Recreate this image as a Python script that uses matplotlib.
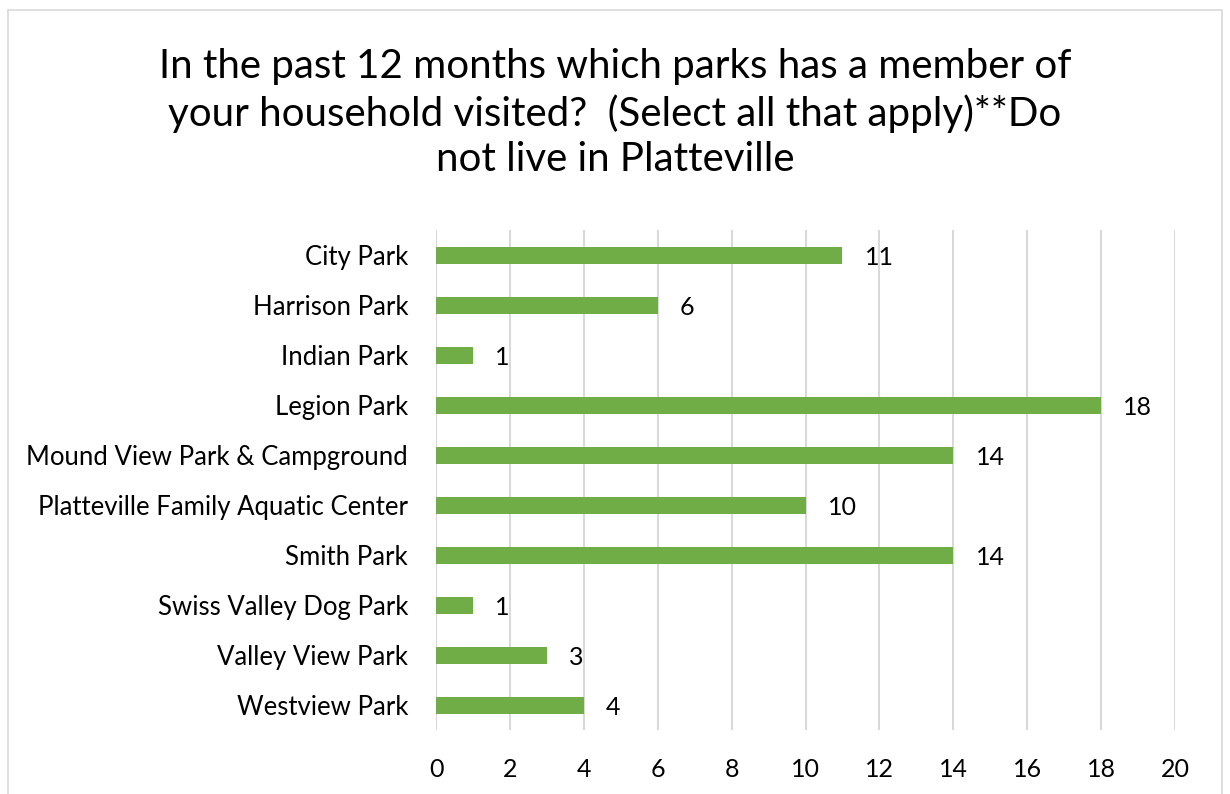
import matplotlib.pyplot as plt
from matplotlib.patches import Rectangle

parks = ["City Park", "Harrison Park", "Indian Park", "Legion Park",
         "Mound View Park & Campground", "Platteville Family Aquatic Center",
         "Smith Park", "Swiss Valley Dog Park", "Valley View Park", "Westview Park"]
visits = [11, 6, 1, 18, 14, 10, 14, 1, 3, 4]
xticks = [0, 2, 4, 6, 8, 10, 12, 14, 16, 18, 20]

title = ("In the past 12 months which parks has a member of\n"
         "your household visited?  (Select all that apply)**Do\n"
         "not live in Platteville")

plt.rcParams['font.family'] = ['Lato', 'DejaVu Sans']

fig = plt.figure(figsize=(12.3, 7.94), dpi=100)
# chart frame
fig.patches.append(Rectangle((8 / 1230, -0.05), 1214 / 1230, 1.05 - 10 / 794,
                             transform=fig.transFigure, fill=False,
                             edgecolor='#d9d9d9', linewidth=1.2))

ax = fig.add_axes([436 / 1230, 1 - 730 / 794, (1175 - 436) / 1230, 500 / 794])
y = list(range(len(parks)))
ax.barh(y, visits, height=0.34, color='#70ad47', zorder=3)
for yi, v in zip(y, visits):
    ax.text(v + 0.6, yi + 0.05, str(v), va='center', ha='left', fontsize=18, color='#000000')

ax.set_ylim(len(parks) - 0.5, -0.5)
ax.set_xlim(0, 20)
ax.set_xticks(xticks)
ax.set_yticks(y)
ax.set_yticklabels(parks)
ax.tick_params(axis='both', length=0, labelsize=18, colors='#000000')
ax.tick_params(axis='y', pad=20, labelsize=18.5)
ax.tick_params(axis='x', pad=20)
ax.grid(axis='x', color='#d9d9d9', linewidth=1.5, zorder=0)
for s in ax.spines.values():
    s.set_visible(False)

fig.text(615 / 1230, 1 - 113 / 794, title, ha='center', va='center',
         fontsize=29, linespacing=1.27, color='#000000')

fig.savefig('out.png', dpi=100)
